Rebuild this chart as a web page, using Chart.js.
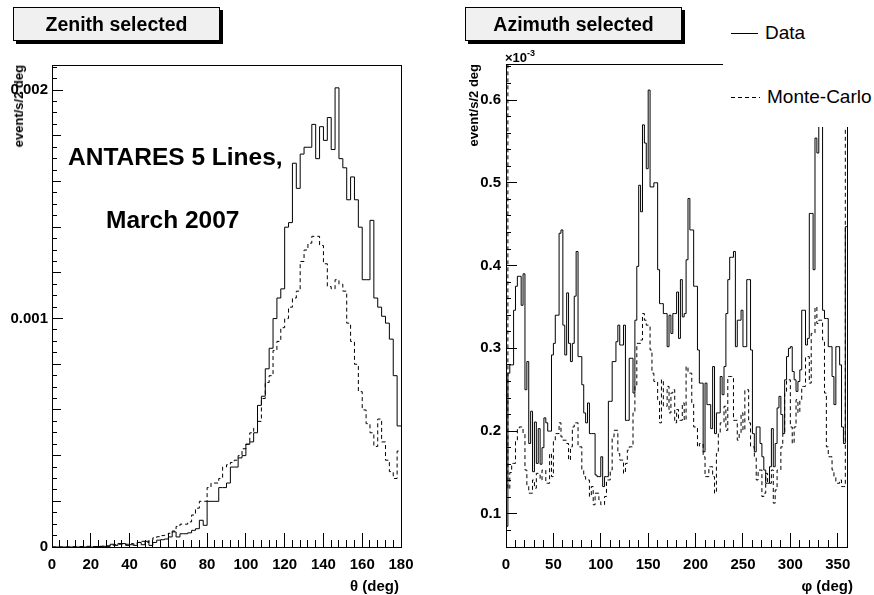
<!DOCTYPE html>
<html>
<head>
<meta charset="utf-8">
<script src="https://cdn.jsdelivr.net/npm/chart.js@4.4.1/dist/chart.umd.min.js"></script>
<style>
  body { margin: 0; background: #fff; font-family: "Liberation Sans", Arial, Helvetica, sans-serif; }
  #page { position: relative; width: 874px; height: 595px; overflow: hidden; background: #fff; }
  canvas { position: absolute; top: 0; }
  .abs { position: absolute; white-space: nowrap; color: #000; }
  .titlebox { position: absolute; border: 1px solid #000; background: #f0f0f0; box-shadow: 3px 3px 0 #000;
              font-weight: bold; font-size: 19.5px; text-align: center; line-height: 33px; box-sizing: border-box; }
  .ytitle { position: absolute; left: 0; top: 0; white-space: nowrap; font-weight: bold; font-size: 13px;
            line-height: 13px; transform-origin: 0 0; }
  .note { font-weight: bold; font-size: 24.5px; line-height: 26px; }
  .xtitle { position: absolute; top: 577px; font-weight: bold; font-size: 15px; line-height: 17px; text-align: right; width: 120px; }
</style>
</head>
<body>
<div id="page">
  <canvas id="zenith" width="437" height="595" style="left:0"></canvas>
  <canvas id="azimuth" width="437" height="595" style="left:437px"></canvas>

  <div class="titlebox" style="left:13px; top:7px; width:207px; height:34px;">Zenith selected</div>
  <div class="titlebox" style="left:465px; top:7px; width:217px; height:34px;">Azimuth selected</div>

  <div class="ytitle" style="transform: translate(12px, 65px) rotate(-90deg) translateX(-100%);">event/s/2 deg</div>
  <div class="ytitle" style="transform: translate(467px, 64px) rotate(-90deg) translateX(-100%);">event/s/2 deg</div>

  <div class="xtitle" style="left:279px;">&theta; (deg)</div>
  <div class="xtitle" style="left:733px;">&phi; (deg)</div>

  <div class="abs note" style="left:68px; top:144px;">ANTARES 5 Lines,</div>
  <div class="abs note" style="left:106px; top:207px;">March 2007</div>

  <div class="abs" style="left:505px; top:51px; font-size:13px; font-weight:bold; line-height:13px;">&times;10<span style="font-size:9px; position:relative; top:-6px;">-3</span></div>

  <!-- legend: white box that covers the top right of the azimuth frame -->
  <div class="abs" style="left:723px; top:8px; width:151px; height:119px; background:#fff;">
    <svg width="151" height="119" style="position:absolute; left:0; top:0;">
      <line x1="8" y1="25.5" x2="35" y2="25.5" stroke="#000" stroke-width="1"/>
      <line x1="8" y1="89.5" x2="37" y2="89.5" stroke="#000" stroke-width="1" stroke-dasharray="4,3"/>
    </svg>
    <div class="abs" style="left:42px; top:14px; font-size:19px; line-height:22px;">Data</div>
    <div class="abs" style="left:44px; top:78px; font-size:19px; line-height:22px;">Monte-Carlo</div>
  </div>
</div>

<script>
// ---- data (values in units of 1e-3 event/s/2 deg, 2 deg bins) ----
const ZEN_BIN = 2;
const zenithData = [
  0, 0, 0, 0, 0, 0, 0, 0, 0, 0,
  0, 0.002, 0.002, 0.003, 0.003, 0.012, 0.007, 0.015, 0.015, 0.007,
  0.010, 0.007, 0.020, 0.010, 0.025, 0.007, 0.020, 0.030, 0.032, 0.035,
  0.044, 0.066, 0.044, 0.058, 0.058, 0.062, 0.073, 0.080, 0.117, 0.095,
  0.20, 0.20, 0.20, 0.26, 0.26, 0.28, 0.35, 0.35, 0.39, 0.40,
  0.45, 0.46, 0.50, 0.62, 0.66, 0.78, 0.87, 1.00, 1.09, 1.13,
  1.40, 1.42, 1.68, 1.57, 1.72, 1.75, 1.75, 1.85, 1.70, 1.84,
  1.78, 1.88, 1.74, 2.01, 1.70, 1.66, 1.52, 1.62, 1.52, 1.40,
  1.17, 1.17, 1.43, 1.09, 1.05, 1.01, 0.98, 0.91, 0.75, 0.53
];
const zenithMC = [
  0, 0, 0, 0, 0, 0.001, 0.001, 0.002, 0.002, 0.003,
  0.002, 0.002, 0.003, 0.004, 0.005, 0.008, 0.010, 0.012, 0.010, 0.012,
  0.015, 0.012, 0.020, 0.025, 0.020, 0.030, 0.040, 0.045, 0.050, 0.052,
  0.060, 0.070, 0.090, 0.100, 0.100, 0.110, 0.140, 0.170, 0.200, 0.200,
  0.26, 0.28, 0.28, 0.30, 0.35, 0.36, 0.37, 0.38, 0.40, 0.43,
  0.45, 0.50, 0.52, 0.55, 0.65, 0.72, 0.75, 0.86, 0.90, 0.96,
  1.00, 1.05, 1.09, 1.12, 1.25, 1.30, 1.33, 1.36, 1.36, 1.32,
  1.24, 1.14, 1.13, 1.17, 1.15, 1.12, 0.98, 0.90, 0.80, 0.68,
  0.60, 0.54, 0.50, 0.44, 0.56, 0.46, 0.38, 0.33, 0.30, 0.42
];

const AZI_BIN = 2;
const azimuthData = [
  0.085, 0.27, 0.28, 0.28, 0.346, 0.375, 0.387, 0.387, 0.352, 0.39,
  0.25, 0.284, 0.185, 0.224, 0.151, 0.211, 0.161, 0.203, 0.16, 0.18,
  0.216, 0.21, 0.2, 0.2, 0.292, 0.306, 0.34, 0.34, 0.439, 0.443,
  0.328, 0.292, 0.367, 0.306, 0.284, 0.306, 0.363, 0.417, 0.29, 0.29,
  0.256, 0.222, 0.21, 0.234, 0.197, 0.197, 0.197, 0.147, 0.145, 0.145,
  0.169, 0.133, 0.145, 0.145, 0.236, 0.236, 0.284, 0.284, 0.308, 0.328,
  0.304, 0.304, 0.328, 0.213, 0.213, 0.288, 0.288, 0.246, 0.334, 0.399,
  0.497, 0.465, 0.57, 0.548, 0.517, 0.612, 0.495, 0.495, 0.50, 0.50,
  0.395, 0.354, 0.354, 0.342, 0.342, 0.302, 0.34, 0.318, 0.342, 0.342,
  0.368, 0.312, 0.383, 0.338, 0.342, 0.407, 0.481, 0.443, 0.443, 0.375,
  0.375, 0.298, 0.258, 0.258, 0.175, 0.258, 0.232, 0.232, 0.203, 0.278,
  0.197, 0.222, 0.222, 0.266, 0.244, 0.278, 0.342, 0.383, 0.41, 0.41,
  0.417, 0.302, 0.334, 0.334, 0.346, 0.302, 0.302, 0.383, 0.383, 0.298,
  0.197, 0.175, 0.205, 0.205, 0.185, 0.169, 0.153, 0.137, 0.137, 0.157,
  0.203, 0.157, 0.185, 0.228, 0.242, 0.22, 0.197, 0.262, 0.29, 0.30,
  0.302, 0.272, 0.262, 0.248, 0.26, 0.274, 0.346, 0.346, 0.304, 0.312,
  0.463, 0.463, 0.395, 0.554, 0.536, 0.60, 0.62, 0.346, 0.336, 0.336,
  0.302, 0.302, 0.266, 0.232, 0.302, 0.302, 0.28, 0.205, 0.185, 0.447
];
const azimuthMC = [
  0.70, 0.13, 0.15, 0.161, 0.161, 0.189, 0.203, 0.205, 0.205, 0.197,
  0.153, 0.135, 0.125, 0.125, 0.141, 0.131, 0.149, 0.149, 0.141, 0.153,
  0.153, 0.137, 0.137, 0.173, 0.145, 0.189, 0.197, 0.197, 0.21, 0.193,
  0.189, 0.189, 0.185, 0.165, 0.181, 0.205, 0.21, 0.21, 0.181, 0.181,
  0.153, 0.145, 0.141, 0.141, 0.121, 0.133, 0.111, 0.125, 0.125, 0.117,
  0.111, 0.111, 0.121, 0.141, 0.141, 0.153, 0.193, 0.201, 0.201, 0.173,
  0.165, 0.165, 0.149, 0.161, 0.177, 0.181, 0.181, 0.222, 0.254, 0.306,
  0.306, 0.31, 0.342, 0.334, 0.328, 0.328, 0.298, 0.27, 0.26, 0.26,
  0.238, 0.21, 0.262, 0.23, 0.23, 0.254, 0.222, 0.246, 0.25, 0.21,
  0.226, 0.213, 0.213, 0.234, 0.213, 0.278, 0.27, 0.27, 0.234, 0.205,
  0.205, 0.181, 0.185, 0.185, 0.169, 0.145, 0.145, 0.157, 0.157, 0.145,
  0.125, 0.173, 0.197, 0.21, 0.21, 0.23, 0.201, 0.266, 0.266, 0.266,
  0.213, 0.213, 0.189, 0.197, 0.222, 0.201, 0.25, 0.25, 0.21, 0.181,
  0.181, 0.169, 0.141, 0.153, 0.153, 0.121, 0.125, 0.149, 0.137, 0.137,
  0.153, 0.113, 0.129, 0.153, 0.153, 0.181, 0.197, 0.246, 0.262, 0.262,
  0.205, 0.185, 0.205, 0.238, 0.222, 0.238, 0.254, 0.254, 0.29, 0.29,
  0.258, 0.318, 0.318, 0.35, 0.33, 0.334, 0.334, 0.31, 0.246, 0.181,
  0.169, 0.169, 0.153, 0.145, 0.137, 0.137, 0.141, 0.133, 0.133, 0.70
];

// axis tick labels
const zenithXTicks = [0, 20, 40, 60, 80, 100, 120, 140, 160, 180];
const zenithYTicks = [0, 1, 2];
const azimuthXTicks = [0, 50, 100, 150, 200, 250, 300, 350];
const azimuthYTicks = [0.1, 0.2, 0.3, 0.4, 0.5, 0.6];

Chart.defaults.font.family = '"Liberation Sans", Arial, Helvetica, sans-serif';
Chart.defaults.color = '#000';

// histogram outline: one point at each bin's low edge, plus the last high edge
function histPoints(bin, values) {
    const pts = values.map((v, i) => ({ x: i * bin, y: v }));
    pts.push({ x: values.length * bin, y: values[values.length - 1] });
    return pts;
}

// tick positions every `step` between min and max
function stepTicks(min, max, step) {
    const out = [];
    const n0 = Math.ceil(min / step - 1e-6), n1 = Math.floor(max / step + 1e-6);
    for (let n = n0; n <= n1; n++) out.push({ value: +(n * step).toFixed(6) });
    return out;
}

// frame round the plot area
const rootFrame = {
    id: 'rootFrame',
    afterDraw(chart) {
        const ctx = chart.ctx, a = chart.chartArea;
        ctx.save();
        ctx.strokeStyle = '#000';
        ctx.lineWidth = 1;
        ctx.strokeRect(Math.round(a.left) + 0.5, Math.round(a.top) + 0.5,
                       Math.round(a.right - a.left), Math.round(a.bottom - a.top));
        ctx.restore();
    }
};

// grid that only draws short tick marks pointing into the plot (negative length)
const inwardTicks = len => ({
    display: true, drawOnChartArea: false, drawTicks: true,
    tickLength: -len, tickColor: '#000', tickWidth: 1, color: '#000', lineWidth: 1
});

// extra unlabelled axis used only for a level of shorter tick marks
function markAxis(axis, min, max, step, len) {
    const s = {
        type: 'linear', axis: axis, position: axis === 'x' ? 'bottom' : 'left',
        min: min, max: max, weight: 0,
        afterBuildTicks: sc => { sc.ticks = stepTicks(min, max, step); },
        grid: inwardTicks(len),
        border: { display: false },
        ticks: { display: false }
    };
    if (axis === 'x') s.afterFit = sc => { sc.height = 0; };
    else s.afterFit = sc => { sc.width = 0; };
    return s;
}

function histChart(id, cfg) {
    const lineDs = (values, dash) => ({
        data: histPoints(cfg.bin, values),
        borderColor: '#000',
        borderWidth: 1,
        borderDash: dash,
        stepped: true,
        pointRadius: 0,
        fill: false,
        clip: 0
    });
    const scales = {
        x: {
            type: 'linear', min: cfg.xMin, max: cfg.xMax, weight: 1,
            afterBuildTicks: s => { s.ticks = cfg.xTicks.map(v => ({ value: v })); },
            afterFit: s => { s.height = 48; },
            grid: inwardTicks(cfg.xMajorLen),
            border: { display: false },
            ticks: { padding: 9 + cfg.xMajorLen, maxRotation: 0, autoSkip: false,
                     font: { size: 15, weight: 'bold' } }
        },
        y: {
            type: 'linear', min: cfg.yMin, max: cfg.yMax, weight: 1,
            afterBuildTicks: s => { s.ticks = cfg.yTicks.map(v => ({ value: v })); },
            afterFit: s => { s.width = cfg.yWidth; },
            grid: inwardTicks(cfg.yMajorLen),
            border: { display: false },
            ticks: { padding: cfg.yPad + cfg.yMajorLen, callback: cfg.yLabel,
                     font: { size: 15, weight: 'bold' } }
        }
    };
    cfg.xMinor.forEach((m, i) => { scales['xm' + i] = markAxis('x', cfg.xMin, cfg.xMax, m.step, m.len); });
    cfg.yMinor.forEach((m, i) => { scales['ym' + i] = markAxis('y', cfg.yMin, cfg.yMax, m.step, m.len); });

    return new Chart(document.getElementById(id), {
        type: 'line',
        data: { datasets: [lineDs(cfg.data, []), lineDs(cfg.mc, [4, 3])] },
        options: {
            responsive: false,
            animation: false,
            events: [],
            layout: { padding: cfg.padding },
            plugins: { legend: { display: false }, tooltip: { enabled: false } },
            scales: scales
        },
        plugins: [rootFrame]
    });
}

histChart('zenith', {
    bin: ZEN_BIN, data: zenithData, mc: zenithMC,
    xMin: 0, xMax: 180, yMin: 0, yMax: 2.11,
    xTicks: zenithXTicks, yTicks: zenithYTicks,
    yLabel: v => v === 0 ? '0' : (v / 1000).toFixed(3),
    padding: { top: 65, right: 36, left: 0, bottom: 0 },
    yWidth: 52, yPad: 4,
    xMajorLen: 14, yMajorLen: 11,
    xMinor: [{ step: 4, len: 7 }],
    yMinor: [{ step: 0.05, len: 5 }, { step: 0.2, len: 9 }]
});

histChart('azimuth', {
    bin: AZI_BIN, data: azimuthData, mc: azimuthMC,
    xMin: 0, xMax: 360, yMin: 0.06, yMax: 0.6435,
    xTicks: azimuthXTicks, yTicks: azimuthYTicks,
    yLabel: v => v.toFixed(1),
    padding: { top: 64, right: 20, left: 0, bottom: 0 },
    yWidth: 69, yPad: 5,
    xMajorLen: 14, yMajorLen: 11,
    xMinor: [{ step: 10, len: 7 }],
    yMinor: [{ step: 0.02, len: 5 }]
});
</script>
</body>
</html>
